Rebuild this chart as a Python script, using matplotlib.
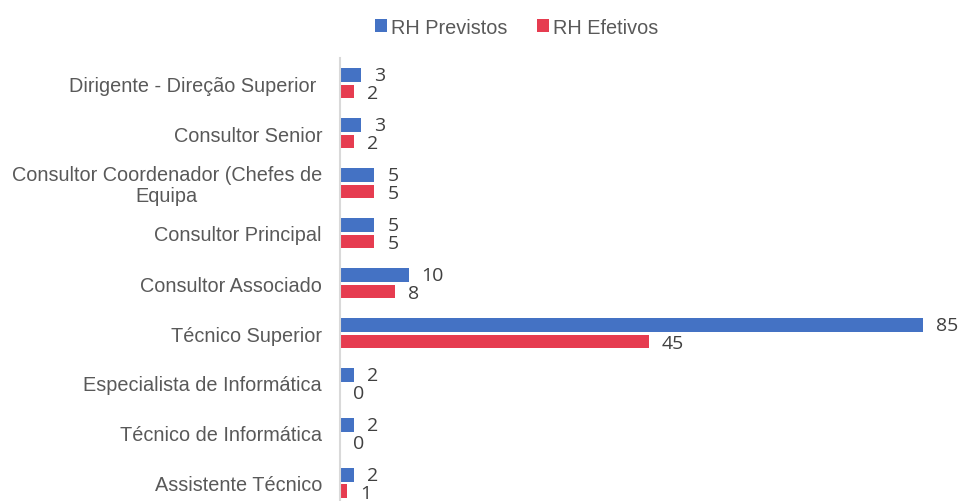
import numpy as np
import matplotlib
matplotlib.use("Agg")
import matplotlib.pyplot as plt
from matplotlib.transforms import blended_transform_factory

categories = [
    "Dirigente - Direção Superior ",
    "Consultor Senior",
    "Consultor Coordenador (Chefes de\nEquipa",
    "Consultor Principal",
    "Consultor Associado",
    "Técnico Superior",
    "Especialista de Informática",
    "Técnico de Informática",
    "Assistente Técnico",
]
previstos = [3, 3, 5, 5, 10, 85, 2, 2, 2]
efetivos = [2, 2, 5, 5, 8, 45, 0, 0, 1]

BLUE = "#4472C4"
RED = "#E63C50"
TEXT = "#595959"
LABEL_FONT = ["Liberation Sans", "DejaVu Sans"]
VALUE_FONT = ["Open Sans", "DejaVu Sans"]

W, H = 961, 502
fig = plt.figure(figsize=(W / 100, H / 100), dpi=100)
# plot area in pixels: x 340..940, y 59..509 (bottom runs slightly past the edge)
ax = fig.add_axes([340 / W, (H - 509) / H, 600 / W, 450 / H])

y = np.arange(len(categories))
h = 0.27
off = 0.165
ax.barh(y - off, previstos, height=h, color=BLUE, label="RH Previstos")
ax.barh(y + off, efetivos, height=h, color=RED, label="RH Efetivos")

ax.set_xlim(0, 600 / 6.86)
ax.set_ylim(len(categories) - 0.5, -0.5)

px = 1 / 6.86  # data units per pixel
for yi, v in zip(y, previstos):
    ax.text(v + 13 * px, yi - off + 0.01, str(v), va="center", ha="left",
            fontsize=14, color="#404040", family=VALUE_FONT)
for yi, v in zip(y, efetivos):
    ax.text(v + 13 * px, yi + off + 0.03, str(v), va="center", ha="left",
            fontsize=14, color="#404040", family=VALUE_FONT)

# category labels drawn as text so the two-line one can be centred
trans = blended_transform_factory(fig.transFigure, ax.transData)
for yi, cat in zip(y, categories):
    ax.text(322 / W, yi + 0.04, cat, transform=trans, ha="right", va="center",
            multialignment="center", fontsize=14.3, color=TEXT,
            family=LABEL_FONT, linespacing=1.1)
ax.set_yticks([])
ax.set_xticks([])

for s in ["top", "right", "bottom"]:
    ax.spines[s].set_visible(False)
ax.spines["left"].set_color("#D9D9D9")
ax.spines["left"].set_linewidth(1.5)

fig.legend(loc="center", bbox_to_anchor=(517 / W, 1 - 28 / H), ncol=2,
           frameon=False, handlelength=0.6, handleheight=0.6,
           handletextpad=0.2, columnspacing=1.5,
           prop={"family": LABEL_FONT, "size": 14.3}, labelcolor=TEXT)

fig.savefig("out.png", dpi=100)
